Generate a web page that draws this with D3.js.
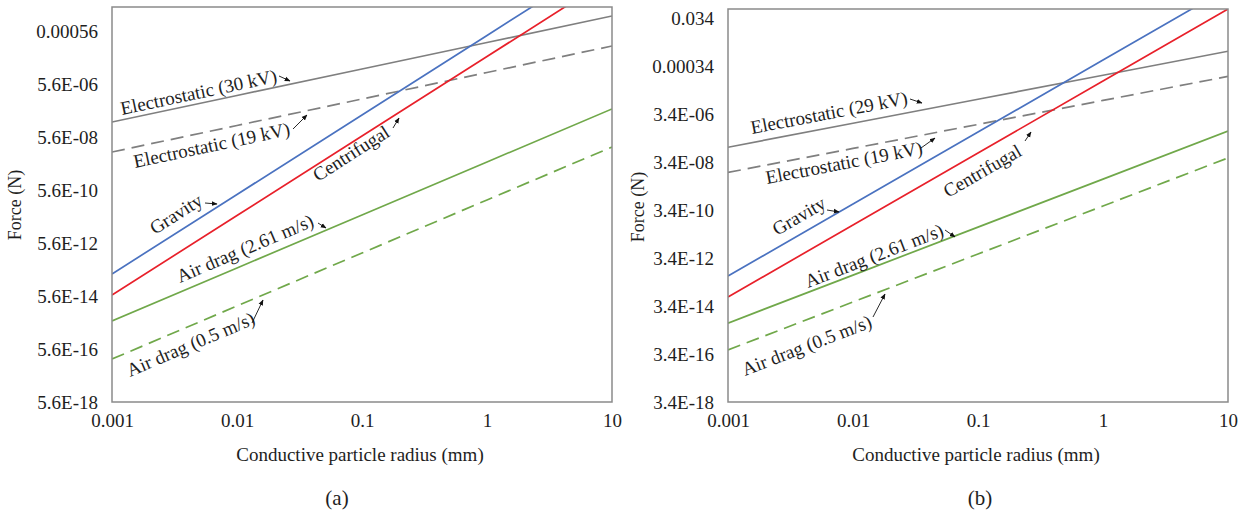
<!DOCTYPE html>
<html>
<head>
<meta charset="utf-8">
<title>Force vs particle radius</title>
<script src="https://cdn.jsdelivr.net/npm/d3@7"></script>
<style>
  body { margin: 0; background: #fff; }
  svg text { font-family: "Liberation Serif", "Times New Roman", serif; fill: #1e1e1e; }
</style>
</head>
<body>
<svg id="chart"></svg>
<script>
// ---- data ----
const radius = [0.001, 0.01, 0.1, 1, 10];   // mm

// panel (a)
const elec30A   = [2.06e-7, 2.06e-6, 2.06e-5, 2.06e-4, 2.06e-3];
const elec19A   = [1.52e-8, 1.52e-7, 1.52e-6, 1.52e-5, 1.52e-4];
const gravityA  = [3.8e-13, 3.8e-10, 3.8e-7, 3.8e-4, 3.8e-1];
const centrifA  = [6.1e-14, 6.1e-11, 6.1e-8, 6.1e-5, 6.1e-2];
const drag261A  = [6.4e-15, 6.4e-13, 6.4e-11, 6.4e-9, 6.4e-7];
const drag05A   = [2.35e-16, 2.35e-14, 2.35e-12, 2.35e-10, 2.35e-8];

// panel (b)
const elec29B   = [1.4e-7, 1.4e-6, 1.4e-5, 1.4e-4, 1.4e-3];
const elec19B   = [1.25e-8, 1.25e-7, 1.25e-6, 1.25e-5, 1.25e-4];
const gravityB  = [6.0e-13, 6.0e-10, 6.0e-7, 6.0e-4, 6.0e-1];
const centrifB  = [8.05e-14, 8.05e-11, 8.05e-8, 8.05e-5, 8.05e-2];
const drag261B  = [6.6e-15, 6.6e-13, 6.6e-11, 6.6e-9, 6.6e-7];
const drag05B   = [5.0e-16, 5.0e-14, 5.0e-12, 5.0e-10, 5.0e-8];

const xTicks = [0.001, 0.01, 0.1, 1, 10];
const xTickLabels = ["0.001", "0.01", "0.1", "1", "10"];

const yTicksA = [5.6e-18, 5.6e-16, 5.6e-14, 5.6e-12, 5.6e-10, 5.6e-8, 5.6e-6, 5.6e-4];
const yTickLabelsA = ["5.6E-18", "5.6E-16", "5.6E-14", "5.6E-12", "5.6E-10", "5.6E-08", "5.6E-06", "0.00056"];
const yTicksB = [3.4e-18, 3.4e-16, 3.4e-14, 3.4e-12, 3.4e-10, 3.4e-8, 3.4e-6, 3.4e-4, 3.4e-2];
const yTickLabelsB = ["3.4E-18", "3.4E-16", "3.4E-14", "3.4E-12", "3.4E-10", "3.4E-08", "3.4E-06", "0.00034", "0.034"];

// ---- styles ----
const colors = ["#7f7f7f", "#7f7f7f", "#4a72c0", "#e8202a", "#70a84a", "#70a84a"];
const dashes = [null, "13,7", null, null, null, "13,7"];

const W = 1251, H = 521;
const svg = d3.select("#chart").attr("width", W).attr("height", H);
svg.append("rect").attr("width", W).attr("height", H).attr("fill", "#fff");

svg.append("defs").append("marker")
  .attr("id", "arrow")
  .attr("viewBox", "0 0 10 10")
  .attr("refX", 9).attr("refY", 5)
  .attr("markerWidth", 6.5).attr("markerHeight", 6.5)
  .attr("orient", "auto")
  .append("path").attr("d", "M0,1 L10,5 L0,9 z").attr("fill", "#111");

// annotation layout: text start and arrow, offsets from plot origin in px
const panels = [
  {
    id: "a", left: 112, top: 7, width: 500, height: 395,
    yDomain: [5.6e-18, 4.5e-3], yTicks: yTicksA, yLabels: yTickLabelsA,
    series: [elec30A, elec19A, gravityA, centrifA, drag261A, drag05A],
    labels: ["Electrostatic (30 kV)", "Electrostatic (19 kV)", "Gravity", "Centrifugal", "Air drag (2.61 m/s)", "Air drag (0.5 m/s)"],
    notes: [
      { t: [10, 108], a: [[167, 69], [178, 74]] },
      { t: [23, 161], a: [[181, 122], [195, 108]] },
      { t: [43, 228], a: [[93, 196], [105, 197]] },
      { t: [206, 175], a: [[281, 121], [287, 111]] },
      { t: [68, 276], a: [[206, 216], [214, 221]] },
      { t: [18, 370], a: [[140, 316], [151, 293]] }
    ],
    tag: "(a)", tagX: 337
  },
  {
    id: "b", left: 728, top: 9, width: 500, height: 393,
    yDomain: [3.4e-18, 0.0806], yTicks: yTicksB, yLabels: yTickLabelsB,
    series: [elec29B, elec19B, gravityB, centrifB, drag261B, drag05B],
    labels: ["Electrostatic (29 kV)", "Electrostatic (19 kV)", "Gravity", "Centrifugal", "Air drag (2.61 m/s)", "Air drag (0.5 m/s)"],
    notes: [
      { t: [24, 125], a: [[182, 90], [194, 94]] },
      { t: [39, 175], a: [[193, 139], [207, 129]] },
      { t: [49, 227], a: [[99, 201], [111, 203]] },
      { t: [220, 189], a: [[297, 132], [303, 123]] },
      { t: [80, 279], a: [[217, 221], [227, 228]] },
      { t: [17, 367], a: [[145, 308], [157, 285]] }
    ],
    tag: "(b)", tagX: 980
  }
];

panels.forEach(p => {
  const x = d3.scaleLog().domain([0.001, 10]).range([0, p.width]);
  const y = d3.scaleLog().domain(p.yDomain).range([p.height, 0]);
  const g = svg.append("g").attr("transform", `translate(${p.left},${p.top})`);

  g.append("clipPath").attr("id", "clip-" + p.id)
    .append("rect").attr("width", p.width).attr("height", p.height);

  // y axis
  const yAxis = d3.axisLeft(y).tickValues(p.yTicks)
    .tickFormat((d, i) => p.yLabels[i]).tickSize(0).tickPadding(14);
  const ya = g.append("g").call(yAxis);
  ya.select(".domain").remove();
  ya.selectAll("text").style("font-size", "19px").style("font-family", "Liberation Serif").style("fill", "#1e1e1e");

  // x axis
  const xAxis = d3.axisBottom(x).tickValues(xTicks)
    .tickFormat((d, i) => xTickLabels[i]).tickSize(0).tickPadding(12);
  const xa = g.append("g").attr("transform", `translate(0,${p.height})`).call(xAxis);
  xa.select(".domain").remove();
  xa.selectAll("text").style("font-size", "19px").style("font-family", "Liberation Serif").style("fill", "#1e1e1e");

  // lines
  const line = d3.line().x((d, i) => x(radius[i])).y(d => y(d));
  const lg = g.append("g").attr("clip-path", `url(#clip-${p.id})`);
  p.series.forEach((s, k) => {
    lg.append("path")
      .attr("d", line(s))
      .attr("fill", "none")
      .attr("stroke", colors[k])
      .attr("stroke-width", 1.7)
      .attr("stroke-dasharray", dashes[k]);
  });

  // plot border
  g.append("rect").attr("width", p.width).attr("height", p.height)
    .attr("fill", "none").attr("stroke", "#8a8a8a").attr("stroke-width", 1.5);

  // annotations, rotated along their series
  p.notes.forEach((n, k) => {
    const s = p.series[k];
    const ang = Math.atan2(y(s[1]) - y(s[0]), x(radius[1]) - x(radius[0])) * 180 / Math.PI;
    g.append("text")
      .attr("transform", `translate(${n.t[0]},${n.t[1]}) rotate(${ang})`)
      .style("font-size", "19px")
      .text(p.labels[k]);
    g.append("line")
      .attr("x1", n.a[0][0]).attr("y1", n.a[0][1])
      .attr("x2", n.a[1][0]).attr("y2", n.a[1][1])
      .attr("stroke", "#111").attr("stroke-width", 0.9)
      .attr("marker-end", "url(#arrow)");
  });

  // axis titles
  g.append("text")
    .attr("transform", `translate(${-p.left + (p.id === "a" ? 21 : 644)},${198}) rotate(-90)`)
    .attr("text-anchor", "middle")
    .style("font-size", "18px")
    .text("Force (N)");
  g.append("text")
    .attr("x", p.width / 2 - 2).attr("y", 461 - p.top)
    .attr("text-anchor", "middle")
    .style("font-size", "19px")
    .text("Conductive particle radius (mm)");

  svg.append("text")
    .attr("x", p.tagX).attr("y", 505)
    .attr("text-anchor", "middle")
    .style("font-size", "21px")
    .text(p.tag);
});
</script>
</body>
</html>
